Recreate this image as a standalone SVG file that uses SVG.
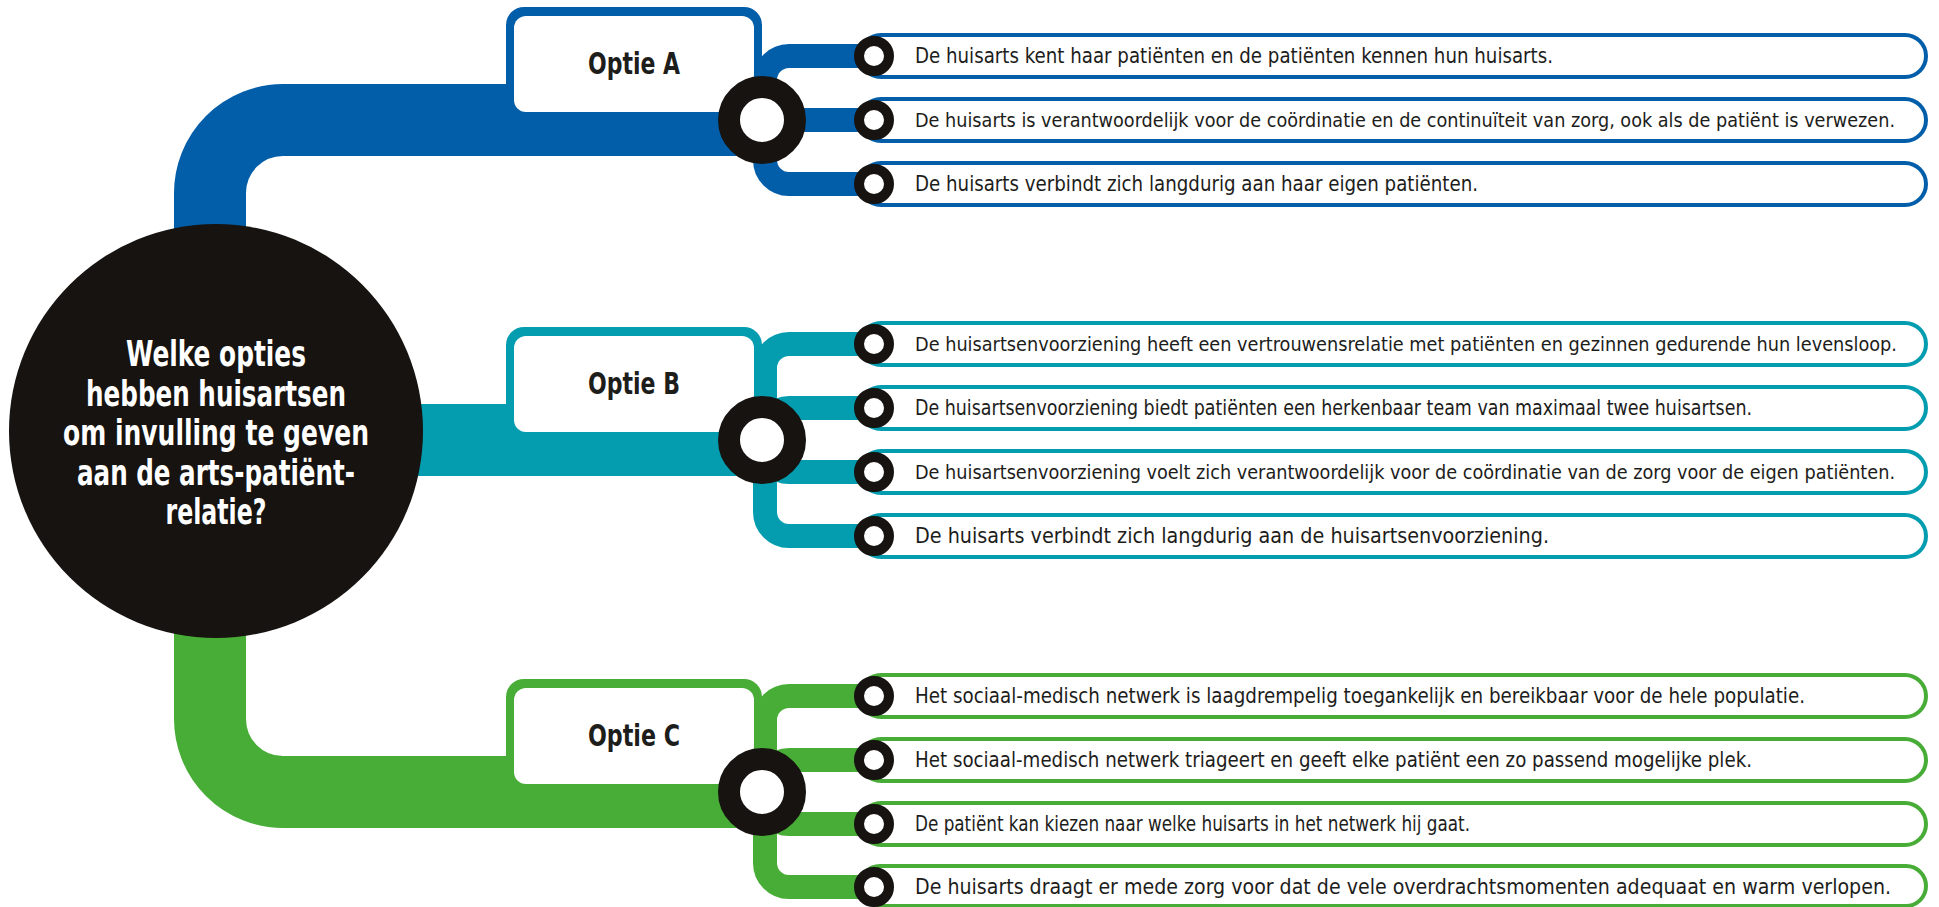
<svg xmlns="http://www.w3.org/2000/svg" width="1939" height="907" viewBox="0 0 1939 907">
  <style>
    .tube { fill: none; stroke-width: 72; stroke-linecap: butt; }
    .branch { fill: none; stroke-width: 24; stroke-linecap: butt; stroke-linejoin: round; }
    .pill { fill: #ffffff; stroke-width: 4; }
    .hub { fill: #ffffff; stroke: #161310; stroke-width: 22; }
    .dot { fill: #ffffff; stroke: #161310; stroke-width: 10; }
    .inner { fill: #ffffff; }
    .item { font-family: "Liberation Sans Narrow", "DejaVu Sans Condensed", "Liberation Sans", sans-serif; font-size: 22px; fill: #1d1d1b; }
    .long { font-size: 20px; }
    .opt { font-family: "Liberation Sans Narrow", "DejaVu Sans Condensed", "Liberation Sans", sans-serif; font-size: 30px; font-weight: bold; fill: #1d1d1b; text-anchor: middle; }
    .q { font-family: "Liberation Sans Narrow", "DejaVu Sans Condensed", "Liberation Sans", sans-serif; font-size: 35px; font-weight: bold; fill: #ffffff; text-anchor: middle; }
    .blue { stroke: #035eaa; }
    .teal { stroke: #049db0; }
    .green { stroke: #47ad36; }
  </style>

  <!-- thick tubes from the central question to each option, plus the branches -->
  <g id="connectors">
    <path class="tube blue" d="M210,330 V193 A73,73 0 0 1 283,120 H762"/>
    <path class="tube teal" d="M300,440 H762"/>
    <path class="tube green" d="M210,540 V719 A73,73 0 0 0 283,792 H762"/>

    <g class="blue">
      <path class="branch" d="M765,120 V80 A24,24 0 0 1 789,56 H874"/>
      <path class="branch" d="M762,120 H874"/>
      <path class="branch" d="M765,120 V160 A24,24 0 0 0 789,184 H874"/>
    </g>
    <g class="teal">
      <path class="branch" d="M765,440 V368 A24,24 0 0 1 789,344 H874"/>
      <path class="branch" d="M765,440 V432 A24,24 0 0 1 789,408 H874"/>
      <path class="branch" d="M765,440 V448 A24,24 0 0 0 789,472 H874"/>
      <path class="branch" d="M765,440 V512 A24,24 0 0 0 789,536 H874"/>
    </g>
    <g class="green">
      <path class="branch" d="M765,792 V720 A24,24 0 0 1 789,696 H874"/>
      <path class="branch" d="M765,792 V784 A24,24 0 0 1 789,760 H874"/>
      <path class="branch" d="M765,792 V800 A24,24 0 0 0 789,824 H874"/>
      <path class="branch" d="M765,792 V863 A24,24 0 0 0 789,887 H874"/>
    </g>
  </g>

  <!-- option boxes -->
  <g id="optie-a">
    <rect x="506" y="7" width="256" height="140" rx="18" fill="#035eaa"/>
    <rect class="inner" x="514" y="16" width="240" height="96" rx="12"/>
    <text class="opt" x="634" y="74" textLength="92" lengthAdjust="spacingAndGlyphs">Optie A</text>
    <circle class="hub" cx="762" cy="120" r="33"/>
  </g>
  <g id="optie-b">
    <rect x="506" y="327" width="256" height="140" rx="18" fill="#049db0"/>
    <rect class="inner" x="514" y="336" width="240" height="96" rx="12"/>
    <text class="opt" x="634" y="394" textLength="92" lengthAdjust="spacingAndGlyphs">Optie B</text>
    <circle class="hub" cx="762" cy="440" r="33"/>
  </g>
  <g id="optie-c">
    <rect x="506" y="679" width="256" height="140" rx="18" fill="#47ad36"/>
    <rect class="inner" x="514" y="688" width="240" height="96" rx="12"/>
    <text class="opt" x="634" y="746" textLength="92" lengthAdjust="spacingAndGlyphs">Optie C</text>
    <circle class="hub" cx="762" cy="792" r="33"/>
  </g>

  <!-- statements of option A -->
  <g id="a1">
    <rect class="pill blue" x="860" y="35" width="1066" height="42" rx="21"/>
    <circle class="dot" cx="874" cy="56" r="15"/>
    <text class="item" x="915" y="63" textLength="638" lengthAdjust="spacingAndGlyphs">De huisarts kent haar patiënten en de patiënten kennen hun huisarts.</text>
  </g>
  <g id="a2">
    <rect class="pill blue" x="860" y="99" width="1066" height="42" rx="21"/>
    <circle class="dot" cx="874" cy="120" r="15"/>
    <text class="item long" x="915" y="127" textLength="980" lengthAdjust="spacingAndGlyphs">De huisarts is verantwoordelijk voor de coördinatie en de continuïteit van zorg, ook als de patiënt is verwezen.</text>
  </g>
  <g id="a3">
    <rect class="pill blue" x="860" y="163" width="1066" height="42" rx="21"/>
    <circle class="dot" cx="874" cy="184" r="15"/>
    <text class="item" x="915" y="191" textLength="563" lengthAdjust="spacingAndGlyphs">De huisarts verbindt zich langdurig aan haar eigen patiënten.</text>
  </g>

  <!-- statements of option B -->
  <g id="b1">
    <rect class="pill teal" x="860" y="323" width="1066" height="42" rx="21"/>
    <circle class="dot" cx="874" cy="344" r="15"/>
    <text class="item long" x="915" y="351" textLength="982" lengthAdjust="spacingAndGlyphs">De huisartsenvoorziening heeft een vertrouwensrelatie met patiënten en gezinnen gedurende hun levensloop.</text>
  </g>
  <g id="b2">
    <rect class="pill teal" x="860" y="387" width="1066" height="42" rx="21"/>
    <circle class="dot" cx="874" cy="408" r="15"/>
    <text class="item" x="915" y="415" textLength="837" lengthAdjust="spacingAndGlyphs">De huisartsenvoorziening biedt patiënten een herkenbaar team van maximaal twee huisartsen.</text>
  </g>
  <g id="b3">
    <rect class="pill teal" x="860" y="451" width="1066" height="42" rx="21"/>
    <circle class="dot" cx="874" cy="472" r="15"/>
    <text class="item long" x="915" y="479" textLength="980" lengthAdjust="spacingAndGlyphs">De huisartsenvoorziening voelt zich verantwoordelijk voor de coördinatie van de zorg voor de eigen patiënten.</text>
  </g>
  <g id="b4">
    <rect class="pill teal" x="860" y="515" width="1066" height="42" rx="21"/>
    <circle class="dot" cx="874" cy="536" r="15"/>
    <text class="item" x="915" y="543" textLength="634" lengthAdjust="spacingAndGlyphs">De huisarts verbindt zich langdurig aan de huisartsenvoorziening.</text>
  </g>

  <!-- statements of option C -->
  <g id="c1">
    <rect class="pill green" x="860" y="675" width="1066" height="42" rx="21"/>
    <circle class="dot" cx="874" cy="696" r="15"/>
    <text class="item" x="915" y="703" textLength="890" lengthAdjust="spacingAndGlyphs">Het sociaal-medisch netwerk is laagdrempelig toegankelijk en bereikbaar voor de hele populatie.</text>
  </g>
  <g id="c2">
    <rect class="pill green" x="860" y="739" width="1066" height="42" rx="21"/>
    <circle class="dot" cx="874" cy="760" r="15"/>
    <text class="item" x="915" y="767" textLength="837" lengthAdjust="spacingAndGlyphs">Het sociaal-medisch netwerk triageert en geeft elke patiënt een zo passend mogelijke plek.</text>
  </g>
  <g id="c3">
    <rect class="pill green" x="860" y="803" width="1066" height="42" rx="21"/>
    <circle class="dot" cx="874" cy="824" r="15"/>
    <text class="item" x="915" y="831" textLength="555" lengthAdjust="spacingAndGlyphs">De patiënt kan kiezen naar welke huisarts in het netwerk hij gaat.</text>
  </g>
  <g id="c4">
    <rect class="pill green" x="860" y="866" width="1066" height="40" rx="20"/>
    <circle class="dot" cx="874" cy="887" r="15"/>
    <text class="item" x="915" y="894" textLength="976" lengthAdjust="spacingAndGlyphs">De huisarts draagt er mede zorg voor dat de vele overdrachtsmomenten adequaat en warm verlopen.</text>
  </g>

  <!-- central question -->
  <g id="vraag">
    <circle cx="216" cy="431" r="207" fill="#161310"/>
    <text class="q" x="216" y="366" textLength="180" lengthAdjust="spacingAndGlyphs">Welke opties</text>
    <text class="q" x="216" y="405.5" textLength="260" lengthAdjust="spacingAndGlyphs">hebben huisartsen</text>
    <text class="q" x="216" y="445" textLength="306" lengthAdjust="spacingAndGlyphs">om invulling te geven</text>
    <text class="q" x="216" y="484.5" textLength="278" lengthAdjust="spacingAndGlyphs">aan de arts-patiënt-</text>
    <text class="q" x="216" y="524" textLength="101" lengthAdjust="spacingAndGlyphs">relatie?</text>
  </g>
</svg>
